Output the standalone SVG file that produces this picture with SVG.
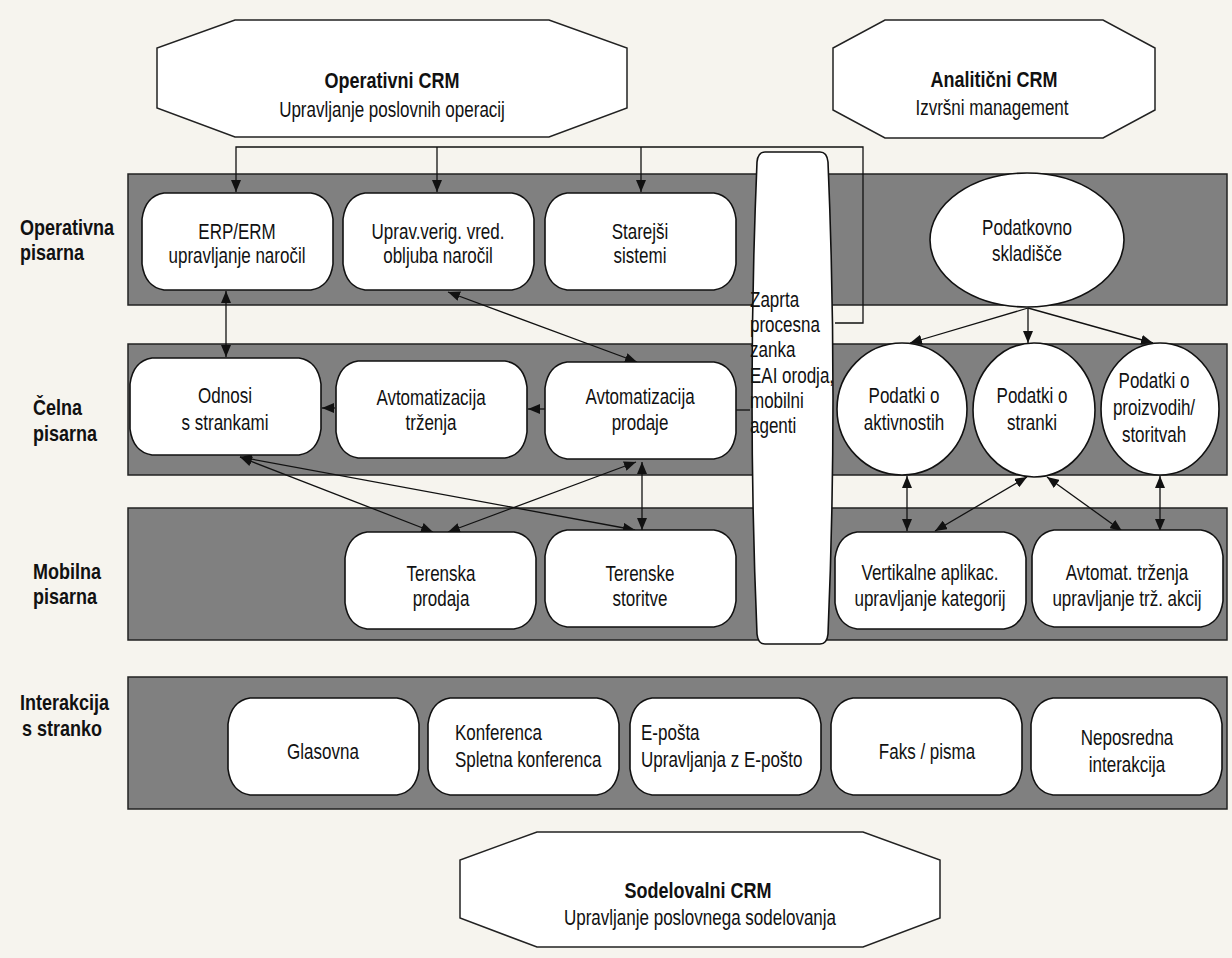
<svg xmlns="http://www.w3.org/2000/svg" width="1232" height="958" viewBox="0 0 1232 958">
<defs>
<style>
.bg{fill:#f6f4ee}
.band{fill:#808080;stroke:#222;stroke-width:1.5}
.node{fill:#fff;stroke:#111;stroke-width:1.6}
.oct{fill:#fff;stroke:#222;stroke-width:1.5}
.t{font-family:"Liberation Sans",Arial,sans-serif;font-size:17px;fill:#111}
.c{text-anchor:middle}
.b{font-weight:bold;font-size:18px}
.ln{fill:none;stroke:#111;stroke-width:1.3}
.one{marker-end:url(#ah)}
.two{marker-start:url(#ah);marker-end:url(#ah)}
</style>
<!-- rounded process box, 191 x 97, with curved ends -->
<path id="pill" d="M22,0 H169 Q188,3 191,26 V71 Q188,94 169,97 H22 Q3,94 0,71 V26 Q3,3 22,0 Z"/>
<marker id="ah" viewBox="0 0 12 10" refX="12" refY="5" markerWidth="12" markerHeight="10" markerUnits="userSpaceOnUse" orient="auto-start-reverse">
<path d="M0,0 L12,5 L0,10 Z" fill="#111"/>
</marker>
</defs>

<rect class="bg" x="0" y="0" width="1232" height="958"/>

<!-- layer bands -->
<g id="bands">
<rect class="band" x="128" y="174" width="1099" height="131"/>
<rect class="band" x="128" y="344" width="1099" height="131"/>
<rect class="band" x="128" y="508" width="1099" height="132"/>
<rect class="band" x="128" y="677" width="1099" height="132"/>
</g>

<!-- layer titles -->
<g id="layer-labels" class="t b">
<text transform="matrix(1 0 0 1.25 20 235)">Operativna</text>
<text transform="matrix(1 0 0 1.25 20 260)">pisarna</text>
<text transform="matrix(1 0 0 1.25 33 415)">Čelna</text>
<text transform="matrix(1 0 0 1.25 33 441)">pisarna</text>
<text transform="matrix(1 0 0 1.25 33 579)">Mobilna</text>
<text transform="matrix(1 0 0 1.25 33 604)">pisarna</text>
<text transform="matrix(1 0 0 1.25 20 710)">Interakcija</text>
<text transform="matrix(1 0 0 1.25 22 736)">s stranko</text>
</g>

<!-- CRM headers -->
<g id="operativni-crm">
<polygon class="oct" points="235,20 549,20 627,48 627,108 549,137 235,137 157,108 157,48"/>
<text class="t b c" transform="matrix(1 0 0 1.25 392 88)">Operativni CRM</text>
<text class="t c" transform="matrix(1 0 0 1.25 392 117)">Upravljanje poslovnih operacij</text>
</g>
<g id="analiticni-crm">
<polygon class="oct" points="885,20 1103,20 1155,48 1155,110 1103,138 885,138 833,110 833,48"/>
<text class="t b c" transform="matrix(1 0 0 1.25 994 87)">Analitični CRM</text>
<text class="t c" transform="matrix(1 0 0 1.25 992 115)">Izvršni management</text>
</g>
<g id="sodelovalni-crm">
<polygon class="oct" points="537,832 863,832 940,860 940,918 863,947 537,947 460,918 460,860"/>
<text class="t b c" transform="matrix(1 0 0 1.25 698 898)">Sodelovalni CRM</text>
<text class="t c" transform="matrix(1 0 0 1.25 700 925)">Upravljanje poslovnega sodelovanja</text>
</g>

<!-- connectors -->
<g id="connectors" class="ln">
<path d="M835,323 H863 V147 H236 V192" class="one"/>
<path d="M437,147 V192" class="one"/>
<path d="M641,147 V192" class="one"/>
<path d="M736,410 H750"/>
<path d="M226,291 V357" class="two"/>
<path d="M448,292 L637,362" class="two"/>
<path d="M545,409 H528" class="one"/>
<path d="M335,408 H322" class="one"/>
<path d="M240,457 L433,532" class="two"/>
<path d="M240,457 L635,530" class="two"/>
<path d="M636,462 L448,532" class="two"/>
<path d="M642,462 V530" class="two"/>
<path d="M1028,308 L910,343" class="one"/>
<path d="M1028,308 V343" class="one"/>
<path d="M1028,308 L1153,343" class="one"/>
<path d="M907,476 V531" class="two"/>
<path d="M1027,477 L935,531" class="two"/>
<path d="M1047,477 L1122,531" class="two"/>
<path d="M1160,476 V531" class="two"/>
</g>

<!-- operational back office -->
<g id="erp">
<use href="#pill" class="node" x="142" y="193"/>
<text class="t c" transform="matrix(1 0 0 1.25 237 239)">ERP/ERM</text>
<text class="t c" transform="matrix(1 0 0 1.25 237 263)">upravljanje naročil</text>
</g>
<g id="uprav-verig">
<use href="#pill" class="node" x="343" y="193"/>
<text class="t c" transform="matrix(1 0 0 1.25 438 239)">Uprav.verig. vred.</text>
<text class="t c" transform="matrix(1 0 0 1.25 438 263)">obljuba naročil</text>
</g>
<g id="starejsi">
<use href="#pill" class="node" x="545" y="193"/>
<text class="t c" transform="matrix(1 0 0 1.25 640 239)">Starejši</text>
<text class="t c" transform="matrix(1 0 0 1.25 640 263)">sistemi</text>
</g>
<g id="skladisce">
<ellipse class="node" cx="1027" cy="240" rx="97" ry="67"/>
<text class="t c" transform="matrix(1 0 0 1.25 1027 235)">Podatkovno</text>
<text class="t c" transform="matrix(1 0 0 1.25 1027 261)">skladišče</text>
</g>

<!-- closed process loop -->
<g id="zanka">
<path class="node" d="M765,152 H820 Q827,152 828,162 Q838,398 828,634 Q827,644 820,644 H765 Q758,644 757,634 Q747,398 757,162 Q758,152 765,152 Z"/>
<text class="t" transform="matrix(1 0 0 1.25 750 307)">Zaprta</text>
<text class="t" transform="matrix(1 0 0 1.25 750 332)">procesna</text>
<text class="t" transform="matrix(1 0 0 1.25 750 357)">zanka</text>
<text class="t" transform="matrix(1 0 0 1.25 750 383)">EAI orodja,</text>
<text class="t" transform="matrix(1 0 0 1.25 750 408)">mobilni</text>
<text class="t" transform="matrix(1 0 0 1.25 750 433)">agenti</text>
</g>

<!-- front office -->
<g id="odnosi">
<use href="#pill" class="node" x="130" y="358"/>
<text class="t c" transform="matrix(1 0 0 1.25 225 403)">Odnosi</text>
<text class="t c" transform="matrix(1 0 0 1.25 225 430)">s strankami</text>
</g>
<g id="avt-trzenja">
<use href="#pill" class="node" x="336" y="361"/>
<text class="t c" transform="matrix(1 0 0 1.25 431 405)">Avtomatizacija</text>
<text class="t c" transform="matrix(1 0 0 1.25 431 430)">trženja</text>
</g>
<g id="avt-prodaje">
<use href="#pill" class="node" x="545" y="362"/>
<text class="t c" transform="matrix(1 0 0 1.25 640 404)">Avtomatizacija</text>
<text class="t c" transform="matrix(1 0 0 1.25 640 430)">prodaje</text>
</g>
<g id="pod-aktivnosti">
<ellipse class="node" cx="902" cy="409" rx="65" ry="66"/>
<text class="t c" transform="matrix(1 0 0 1.25 904 403)">Podatki o</text>
<text class="t c" transform="matrix(1 0 0 1.25 904 430)">aktivnostih</text>
</g>
<g id="pod-stranki">
<ellipse class="node" cx="1034" cy="410" rx="61" ry="67"/>
<text class="t c" transform="matrix(1 0 0 1.25 1032 403)">Podatki o</text>
<text class="t c" transform="matrix(1 0 0 1.25 1032 430)">stranki</text>
</g>
<g id="pod-proizvodi">
<ellipse class="node" cx="1160" cy="409" rx="59" ry="66"/>
<text class="t c" transform="matrix(1 0 0 1.25 1154 388)">Podatki o</text>
<text class="t c" transform="matrix(1 0 0 1.25 1154 415)">proizvodih/</text>
<text class="t c" transform="matrix(1 0 0 1.25 1154 442)">storitvah</text>
</g>

<!-- mobile office -->
<g id="terenska-prodaja">
<use href="#pill" class="node" x="345" y="532"/>
<text class="t c" transform="matrix(1 0 0 1.25 441 581)">Terenska</text>
<text class="t c" transform="matrix(1 0 0 1.25 441 606)">prodaja</text>
</g>
<g id="terenske-storitve">
<use href="#pill" class="node" x="545" y="530"/>
<text class="t c" transform="matrix(1 0 0 1.25 640 581)">Terenske</text>
<text class="t c" transform="matrix(1 0 0 1.25 640 606)">storitve</text>
</g>
<g id="vertikalne">
<use href="#pill" class="node" x="835" y="532"/>
<text class="t c" transform="matrix(1 0 0 1.25 930 580)">Vertikalne aplikac.</text>
<text class="t c" transform="matrix(1 0 0 1.25 930 606)">upravljanje kategorij</text>
</g>
<g id="avtomat-trzenja">
<use href="#pill" class="node" x="1032" y="530"/>
<text class="t c" transform="matrix(1 0 0 1.25 1127 580)">Avtomat. trženja</text>
<text class="t c" transform="matrix(1 0 0 1.25 1127 606)">upravljanje trž. akcij</text>
</g>

<!-- customer interaction -->
<g id="glasovna">
<use href="#pill" class="node" x="228" y="698"/>
<text class="t c" transform="matrix(1 0 0 1.25 323 759)">Glasovna</text>
</g>
<g id="konferenca">
<use href="#pill" class="node" x="428" y="698"/>
<text class="t" transform="matrix(1 0 0 1.25 455 740)">Konferenca</text>
<text class="t" transform="matrix(1 0 0 1.25 455 767)">Spletna konferenca</text>
</g>
<g id="eposta">
<use href="#pill" class="node" x="630" y="698"/>
<text class="t" transform="matrix(1 0 0 1.25 641 740)">E-pošta</text>
<text class="t" transform="matrix(1 0 0 1.25 641 767)">Upravljanja z E-pošto</text>
</g>
<g id="faks">
<use href="#pill" class="node" x="831" y="698"/>
<text class="t c" transform="matrix(1 0 0 1.25 927 759)">Faks / pisma</text>
</g>
<g id="neposredna">
<use href="#pill" class="node" x="1031" y="698"/>
<text class="t c" transform="matrix(1 0 0 1.25 1127 745)">Neposredna</text>
<text class="t c" transform="matrix(1 0 0 1.25 1127 772)">interakcija</text>
</g>
</svg>
